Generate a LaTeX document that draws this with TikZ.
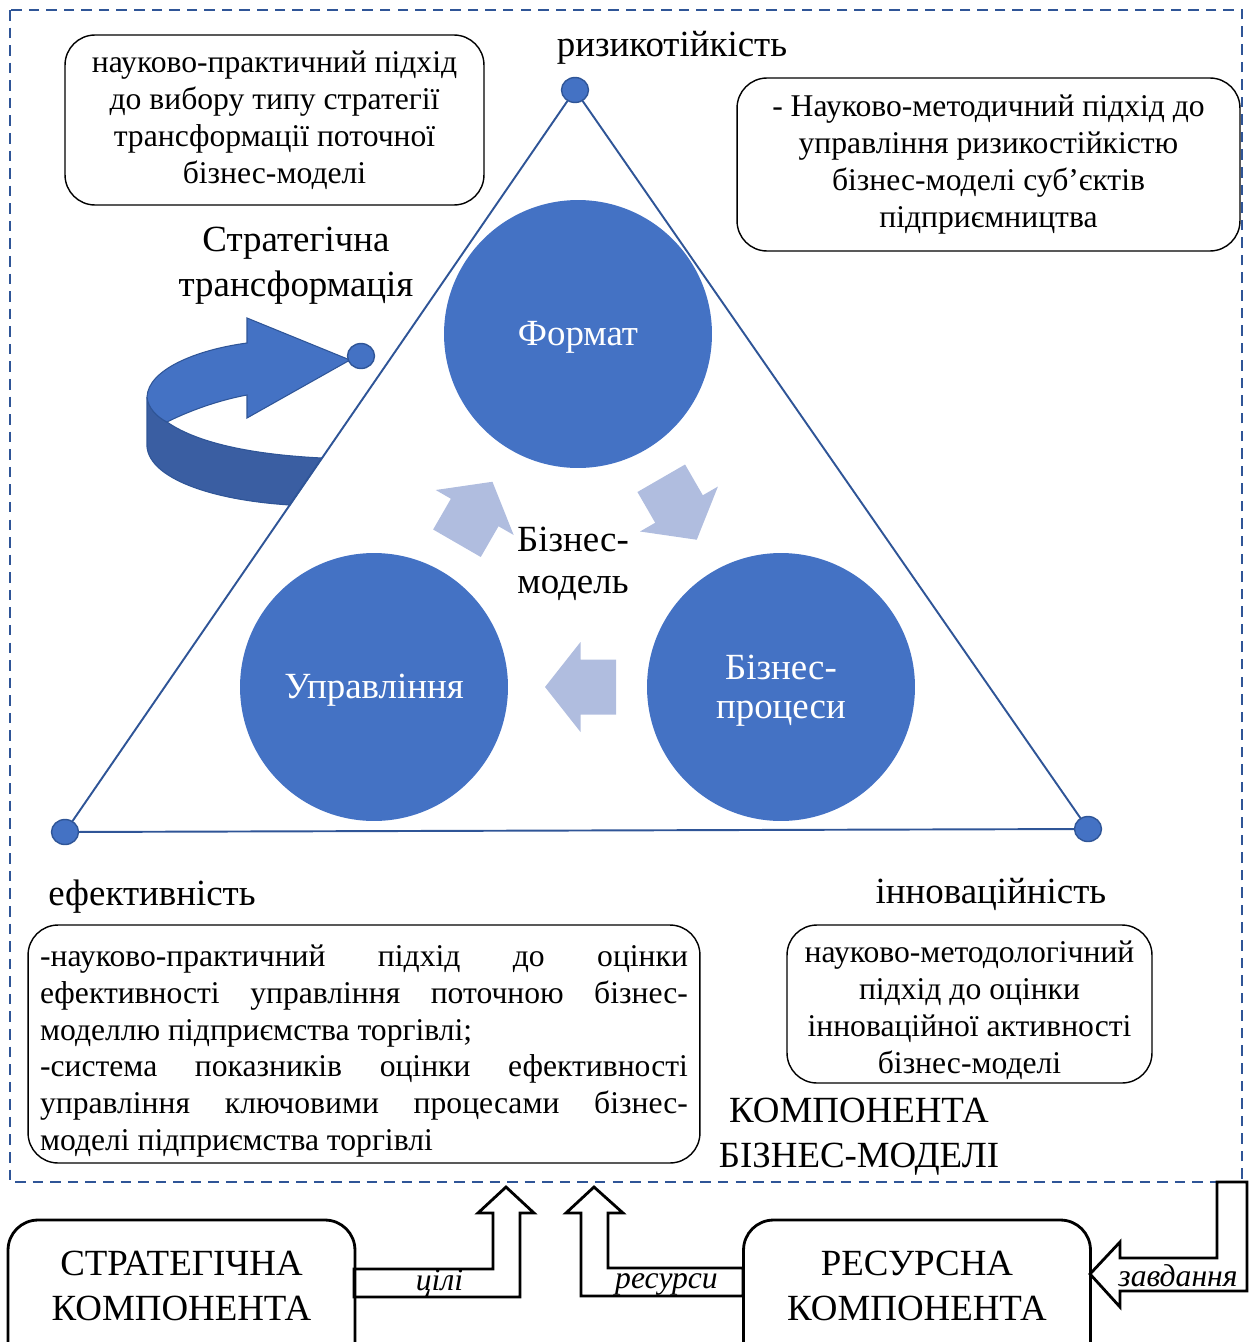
\documentclass[tikz,border=0pt]{standalone}
\usepackage{fontspec}
\setmainfont{Liberation Serif}
\usetikzlibrary{shapes.geometric,positioning,calc}
\definecolor{accblue}{HTML}{4472C4}
\definecolor{darkblue}{HTML}{2F5597}
\definecolor{sideblue}{HTML}{3A5EA2}
\definecolor{paleblue}{HTML}{B0BDDF}
\newcommand{\notefont}{\fontsize{18}{21}\selectfont}
\newcommand{\bigfont}{\fontsize{21}{25.5}\selectfont}
\tikzset{
  frame/.style={draw=darkblue,line width=1.1pt,dash pattern=on 6pt off 4pt},
  tri/.style={draw=darkblue,line width=1.1pt},
  dot/.style={ellipse,draw=darkblue,fill=accblue,line width=0.8pt,minimum width=0.54cm,minimum height=0.5cm,inner sep=0pt},
  bigc/.style={circle,fill=accblue,minimum size=5.36cm,inner sep=0pt},
  ctext/.style={align=center,text=white,font=\fontsize{21}{22}\selectfont,inner sep=0pt},
  note/.style={draw,line width=0.8pt,rounded corners=0.6cm,align=center,font=\notefont,inner sep=0pt},
  ntext/.style={align=center,font=\notefont,inner sep=0pt},
  lbl/.style={align=center,font=\bigfont,inner sep=0pt},
  compbox/.style={draw,line width=1.6pt,rounded corners=0.6cm,minimum width=6.94cm,minimum height=3.6cm,inner sep=0pt},
  bent/.style={draw,line width=1.6pt,fill=white,line join=miter},
  arrlbl/.style={font=\notefont\itshape,inner sep=0pt}
}
\newcommand{\cyclearrow}[3]{\fill[paleblue,shift={(#1,#2)},rotate=#3](-35.5,-27.5)--(0,-27.5)--(0,-45)--(35.5,0)--(0,45)--(0,27.5)--(-35.5,27.5)--cycle;}
\begin{document}
\begin{tikzpicture}[x=0.02cm,y=-0.02cm]
\useasboundingbox (0,0) rectangle (1252,1342);
\clip (0,0) rectangle (1252,1342);
% frame of the component
\draw[frame](10,10)rectangle(1242,1182);
% turning arrow
\filldraw[fill=sideblue,draw=darkblue,line width=0.6pt](147,397)--(147,447)..controls(150,478)and(210,500)..(290,505)--(322,458)..controls(260,455)and(200,445)..(167,422)..controls(157,417)and(148,408)..(147,397)--cycle;
\filldraw[fill=accblue,draw=darkblue,line width=0.6pt](247,343)..controls(195,350)and(148,370)..(147,397)..controls(148,408)and(157,417)..(167,422)..controls(195,408)and(225,399)..(247,395)--(247,418)--(350,360)--(247,318)--cycle;
% triangle
\coordinate(vtop)at(575,90);
\coordinate(vleft)at(65,832);
\coordinate(vright)at(1088,829);
\draw[tri](vtop)--(vleft)--(vright)--cycle;
\node[dot](dtop)at(vtop){};
\node[dot](dleft)at(vleft){};
\node[dot](dright)at(vright){};
\node[dot](dturn)at(361,356){};
% circles
\node[bigc](format)at(578,334){};
\node[bigc](uprav)at(374,687){};
\node[bigc](proc)at(781,687){};
\node[ctext](formatt)at(578,337){Формат};
\node[ctext](upravt)at(374,690){Управління};
\node[ctext](proct)at(781,691){Бізнес-\\процеси};
\cyclearrow{474.7}{512.5}{60}
\cyclearrow{679}{509}{-60}
\cyclearrow{580.5}{687}{180}
\node[lbl,font=\fontsize{21}{24}\selectfont](bm)at(573,564){Бізнес-\\модель};
\node[lbl](strans)at(296,266){Стратегічна\\трансформація};
% corner labels
\node[lbl](risk)at(672,48){ризикотійкість};
\node[lbl](eff)at(152,897){ефективність};
\node[lbl](innov)at(991,894){інноваційність};
% notes
\node[note,minimum width=8.38cm,minimum height=3.4cm](nleft)at(274.5,120){науково-практичний підхід\\до вибору типу стратегії\\трансформації поточної\\бізнес-моделі};
\node[note,minimum width=10.06cm,minimum height=3.46cm](nright)at(988.5,164.5){- Науково-методичний підхід до\\управління ризикостійкістю\\бізнес-моделі суб’єктів\\підприємництва};
\node[note,minimum width=7.3cm,minimum height=3.16cm](ninnov)at(969.5,1004){};
\node[ntext](ninnovt)at(969.5,1010){науково-методологічний\\підхід до оцінки\\інноваційної активності\\бізнес-моделі};
\node[note,minimum width=13.44cm,minimum height=4.76cm](neff)at(364,1044){};
\node[ntext,text width=12.96cm,align=justify](nefft)at(364,1051){\hyphenpenalty=10000 -науково-практичний підхід до оцінки ефективності управління поточною бізнес-\linebreak моделлю підприємства торгівлі;\\-система показників оцінки ефективності управління ключовими процесами бізнес-\linebreak моделі підприємства торгівлі};
\node[lbl](comp)at(859,1137){КОМПОНЕНТА\\БІЗНЕС-МОДЕЛІ};
% bottom components
\draw[bent](354,1269)--(493,1269)--(493,1213)--(478,1213)--(506,1187)--(534,1213)--(520,1213)--(520,1297)--(354,1297)--cycle;
\draw[bent](743,1268)--(608,1268)--(608,1213)--(623,1213)--(594,1187)--(566,1213)--(581,1213)--(581,1296)--(743,1296)--cycle;
\draw[bent](1217,1182)--(1247,1182)--(1247,1291)--(1120,1291)--(1120,1307)--(1090,1274)--(1120,1242)--(1120,1258)--(1217,1258)--cycle;
\node[compbox](stratbox)at(181.5,1310){};
\node[compbox](resbox)at(917,1310){};
\node[lbl](strattext)at(181.5,1286){СТРАТЕГІЧНА\\КОМПОНЕНТА};
\node[lbl](restext)at(917,1286){РЕСУРСНА\\КОМПОНЕНТА};
\node[arrlbl](goals)at(439.5,1283){цілі};
\node[arrlbl](res)at(666.5,1284){ресурси};
\node[arrlbl](tasks)at(1178,1276){завдання};
\end{tikzpicture}
\end{document}
